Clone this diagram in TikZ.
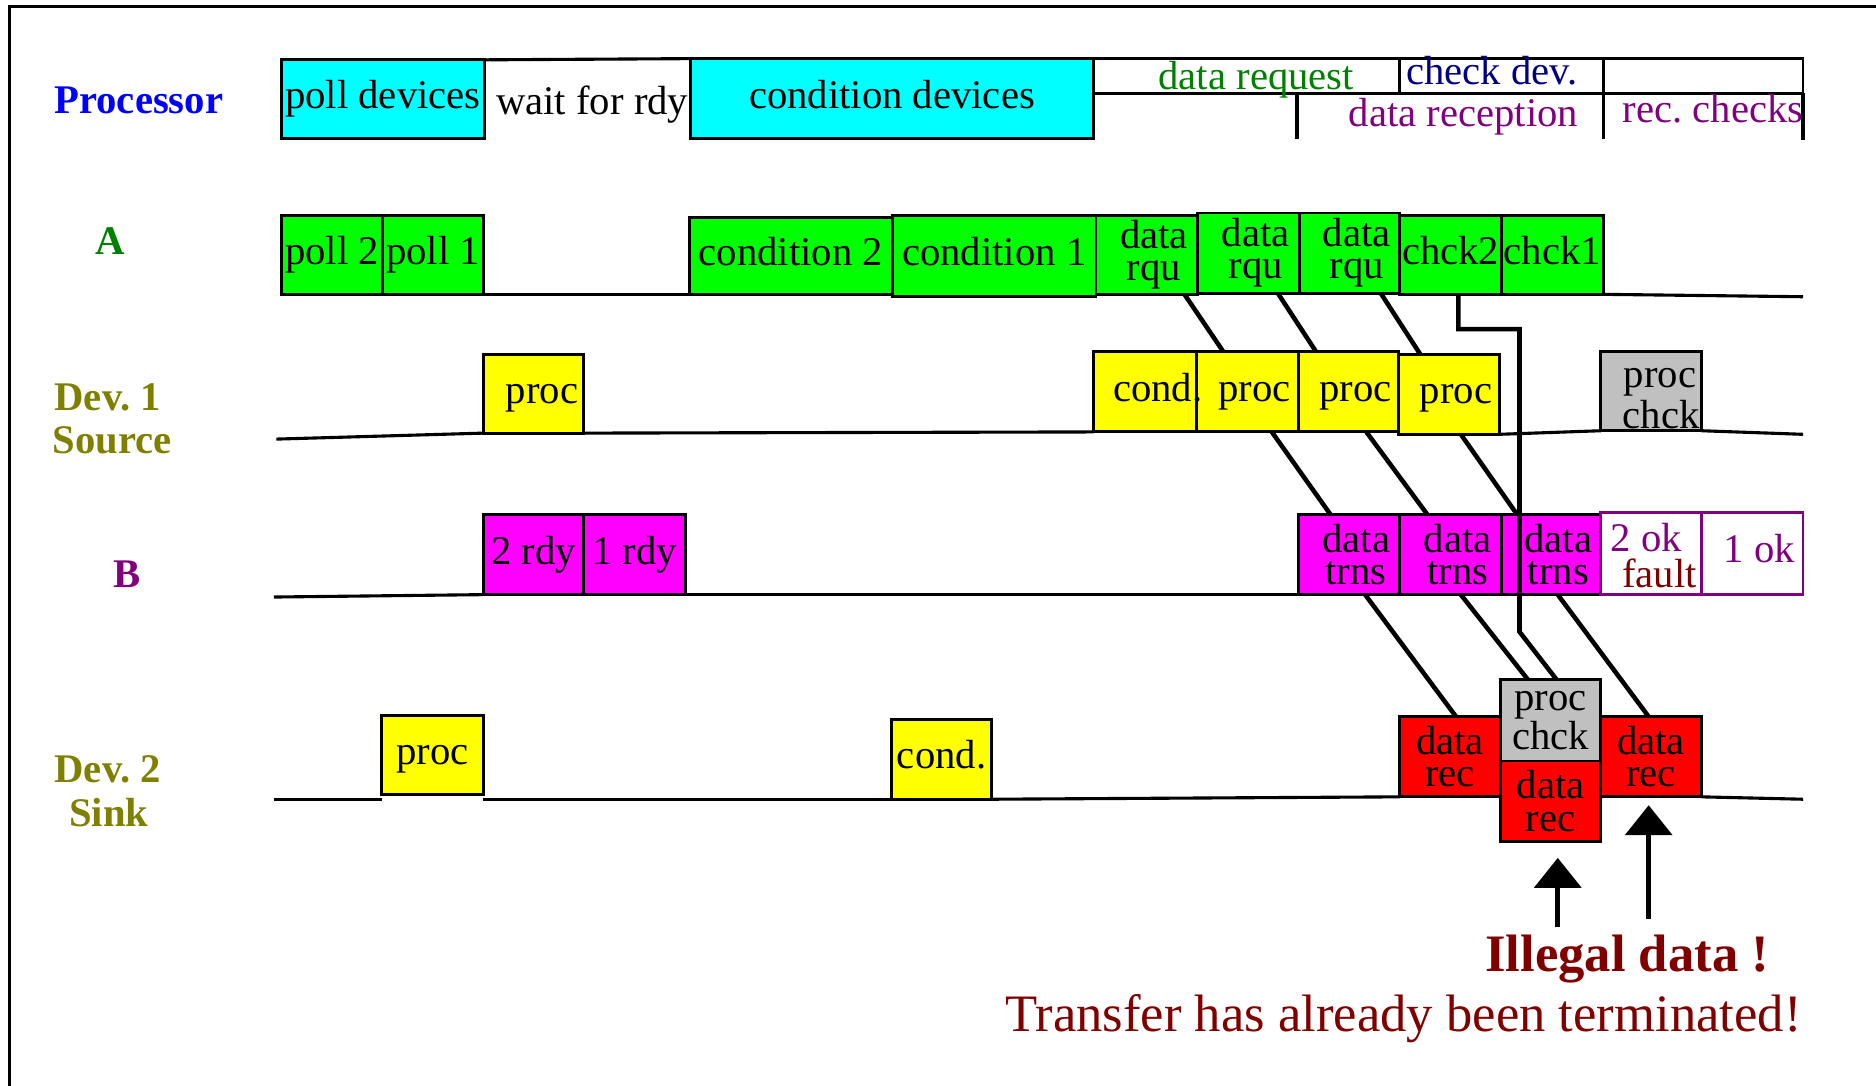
\documentclass[tikz,border=0pt]{standalone}
\usepackage{fontspec}
\setmainfont{Liberation Serif}
\usetikzlibrary{calc,arrows.meta}

\definecolor{bxcyan}{RGB}{0,255,255}
\definecolor{bxgreen}{RGB}{0,255,0}
\definecolor{bxyellow}{RGB}{255,255,0}
\definecolor{bxmagenta}{RGB}{255,0,255}
\definecolor{bxred}{RGB}{255,0,0}
\definecolor{bxgray}{RGB}{192,192,192}
\definecolor{lblblue}{RGB}{0,0,255}
\definecolor{lblgreen}{RGB}{0,128,0}
\definecolor{lblolive}{RGB}{128,128,0}
\definecolor{lblpurple}{RGB}{128,0,128}
\definecolor{lblnavy}{RGB}{0,0,128}
\definecolor{lbldark}{RGB}{128,0,0}

% timing box given by its corners: options, name, x1, y1, x2, y2, text
\newcommand{\tlbox}[7]{%
  \pgfmathsetmacro{\tlboxw}{(#5-#3)*0.5}%
  \pgfmathsetmacro{\tlboxh}{(#6-#4)*0.5}%
  \node[box,#1,minimum width=\tlboxw pt,minimum height=\tlboxh pt]
    (#2) at ({(#3+#5)/2},{(#4+#6)/2}) {#7};}

\begin{document}
\frenchspacing
\begin{tikzpicture}[x=0.5pt, y=-0.5pt,
  box/.style={draw, line width=1.2pt, inner sep=0pt, outer sep=0pt, align=center,
    font=\fontsize{17}{13.5}\selectfont},
  one/.style={text height=11.6pt, text depth=3.7pt},
  txt/.style={inner sep=0pt, font=\fontsize{17}{13.5}\selectfont},
  lbl/.style={inner sep=0pt, font=\fontsize{17}{18}\selectfont\bfseries},
  big/.style={inner sep=0pt, text=lbldark, font=\fontsize{22}{22}\selectfont},
  sig/.style={line width=1.3pt},
  conn/.style={line width=1.9pt},
  upar/.style={line width=1.9pt, -{Triangle[width=19.5pt,length=12.5pt]}},
]
\useasboundingbox (0,0) rectangle (1568,907);

% outer frame
\draw[line width=1pt] (8,930) -- (8,5.5) -- (1590,5.5);

% row labels
\node[lbl, anchor=base, text=lblblue] (lProc) at (116,95) {Processor};
\node[lbl, anchor=base, text=lblgreen] (lA) at (92,213) {A};
\node[lbl, anchor=base, text=lblolive] (lDevA) at (90,343) {Dev. 1};
\node[lbl, anchor=base, text=lblolive] (lSrc) at (94,379) {Source};
\node[lbl, anchor=base, text=lblpurple] (lB) at (106,491) {B};
\node[lbl, anchor=base, text=lblolive] (lDevB) at (90,654) {Dev. 2};
\node[lbl, anchor=base, text=lblolive] (lSink) at (91,691) {Sink};

% ---- Processor row
\tlbox{one, fill=bxcyan}{pdev}{235}{50}{405}{116}{poll devices}
\tlbox{one, fill=bxcyan}{cdev}{577}{49}{914}{116}{condition devices}
\draw[sig] (pdev.north east) -- (cdev.north west);
\node[txt, anchor=base] (wait) at (495,96) {wait for rdy};

\tlbox{}{dreq}{914}{49}{1170}{78}{}
\tlbox{}{cdv}{1170}{49}{1340}{78}{}
\tlbox{}{rchk}{1340}{49}{1507}{78}{}
\draw[sig] ($(dreq.south west)+(170,0)$) -- ++(0,38);
\draw[sig] (cdv.south east) -- ++(0,38);
\draw[sig] (rchk.south east) -- ++(0,39);
\node[txt, anchor=base, text=lblgreen] (tReq) at (1050,75) {data request};
\node[txt, anchor=base west, text=lblnavy] (tChk) at (1175,71) {check dev.};
\node[txt, anchor=base west, text=lblpurple] (tRec) at (1127,106) {data reception};
\node[txt, anchor=base west, text=lblpurple] (tRck) at (1356,102) {rec. checks};

% ---- A row
\tlbox{one, fill=bxgreen}{poll2}{235}{180}{320}{246}{poll 2}
\tlbox{one, fill=bxgreen}{poll1}{320}{180}{404}{246}{poll 1}
\tlbox{one, fill=bxgreen}{cnd2}{576}{182}{746}{246}{condition 2}
\tlbox{one, fill=bxgreen}{cnd1}{746}{180}{916}{248}{condition 1}
\tlbox{fill=bxgreen}{rqu1}{916}{180}{1001}{246}{\hspace*{6pt}data\\\hspace*{6pt}rqu}
\tlbox{fill=bxgreen}{rqu2}{1001}{178}{1086}{245}{\hspace*{6pt}data\\\hspace*{6pt}rqu}
\tlbox{fill=bxgreen}{rqu3}{1086}{178}{1170}{245}{\hspace*{6pt}data\\\hspace*{6pt}rqu}
\tlbox{one, fill=bxgreen}{chk2}{1170}{180}{1255}{246}{chck2}
\tlbox{one, fill=bxgreen}{chk1}{1255}{180}{1340}{246}{chck1}
\coordinate (aEnd) at (1507,248);
\draw[sig] (poll1.south east) -- (cnd2.south west);
\draw[sig] (chk1.south east) -- (aEnd);

% ---- Dev. 1 row
\coordinate (d1Start) at (231,367);
\tlbox{one, fill=bxyellow}{d1proc}{404}{296}{488}{362}{\hspace*{7pt}proc}
\tlbox{fill=bxyellow}{d1cond}{914}{294}{1000}{361}{}
\tlbox{one, fill=bxyellow}{d1p1}{1000}{294}{1085}{361}{\hspace*{6pt}proc}
\tlbox{one, fill=bxyellow}{d1p2}{1085}{294}{1169}{361}{\hspace*{6pt}proc}
\tlbox{one, fill=bxyellow}{d1p3}{1169}{296}{1253}{363}{\hspace*{6pt}proc}
% the label runs over the border of the next box, so it is set on top
\node[txt, anchor=base west] (d1condT) at ($(d1cond.west)+(16,8)$) {cond.};
\tlbox{fill=bxgray}{d1chk}{1338}{294}{1422}{360}{}
\node[txt, anchor=base east] (d1chkA) at ($(d1chk.east)+(-4,-3)$) {proc};
\node[txt, anchor=base east] (d1chkB) at ($(d1chk.east)+(-1,31)$) {chck};
\coordinate (d1End) at (1507,363);
\draw[sig] (d1Start) -- (d1proc.south west);
\draw[sig] (d1proc.south east) -- (d1cond.south west);
\draw[sig] (d1p3.south east) -- (d1chk.south west);
\draw[sig] (d1chk.south east) -- (d1End);

% ---- B row
\coordinate (bStart) at (229,499);
\tlbox{one, fill=bxmagenta}{rdy2}{404}{430}{488}{497}{2 rdy}
\tlbox{one, fill=bxmagenta}{rdy1}{488}{430}{573}{497}{1 rdy}
\tlbox{fill=bxmagenta}{trn1}{1085}{430}{1170}{497}{\hspace*{6pt}data\\\hspace*{6pt}trns}
\tlbox{fill=bxmagenta}{trn2}{1170}{430}{1255}{497}{\hspace*{6pt}data\\\hspace*{6pt}trns}
\tlbox{fill=bxmagenta}{trn3}{1255}{430}{1338}{497}{\hspace*{6pt}data\\\hspace*{6pt}trns}
\tlbox{draw=lblpurple, fill=white}{ok2}{1338}{428}{1422}{497}{}
\tlbox{one, draw=lblpurple, fill=white, text=lblpurple}{ok1}{1422}{428}{1507}{497}{\hspace*{6pt}1 ok}
\node[txt, anchor=base, text=lblpurple] (ok2A) at (1376,461) {2 ok};
\node[txt, anchor=base, text=lbldark] (ok2B) at (1387,491) {fault};
\draw[sig] (bStart) -- (rdy2.south west);
\draw[sig] (rdy1.south east) -- (trn1.south west);

% ---- Dev. 2 row
\coordinate (d2Start) at (229,668);
\tlbox{one, fill=bxyellow}{d2proc}{319}{598}{404}{664}{proc}
\tlbox{one, fill=bxyellow}{d2cond}{745}{601}{829}{668}{cond.}
\tlbox{fill=bxred}{rec1}{1170}{599}{1254}{666}{data\\rec}
\tlbox{fill=bxgray}{pchk2}{1254}{568}{1338}{636}{proc\\chck}
\tlbox{fill=bxred}{rec2}{1254}{636}{1338}{703}{data\\rec}
\tlbox{fill=bxred}{rec3}{1338}{599}{1422}{666}{data\\rec}
\coordinate (d2End) at (1507,668);
\draw[sig] (d2Start) -- (d2proc.south west |- d2Start);
\draw[sig] (d2proc.south east |- d2Start) -- (d2cond.south west);
\draw[sig] (d2cond.south east) -- (rec1.south west);
\draw[sig] (rec3.south east) -- (d2End);

% ---- transfer connectors
\draw[conn] ($(rqu1.south)+(31.5,0)$) -- ($(d1p1.north)+(-20,0)$);
\draw[conn] ($(rqu2.south)+(24.5,0)$) -- ($(d1p2.north)+(-27,0)$);
\draw[conn] ($(rqu3.south)+(26,0)$) -- ($(d1p3.north)+(-24,0)$);
\draw[conn] ($(d1p1.south)+(20.5,0)$) -- ($(trn1.north)+(-15.5,0)$);
\draw[conn] ($(d1p2.south)+(15,0)$) -- ($(trn2.north)+(-19.5,0)$);
\draw[conn] ($(d1p3.south)+(10,0)$) -- ($(trn3.north)+(-28.5,0)$);
\draw[conn] ($(trn1.south)+(13.5,0)$) -- ($(rec1.north)+(5,0)$);
\draw[conn] ($(trn2.south)+(8.5,0)$) -- ($(pchk2.north)+(-19,0)$);
\draw[conn] ($(trn3.south)+(5.5,0)$) -- ($(rec3.north)+(-2,0)$);
\draw[conn] ($(chk2.south)+(6.5,0)$) -- ++(0,29) -- ++(51,0) -- ++(0,253)
  -- ($(pchk2.north)+(5,0)$);

% ---- fault annotation
\coordinate (arrA) at (1302,775);
\coordinate (arrB) at (1378,768);
\draw[upar] (arrA) -- ($(rec2.south)+(6,14)$);
\draw[upar] (arrB) -- ($(rec3.south)+(-2,7)$);
\node[big, anchor=base, font=\fontsize{22}{22}\selectfont\bfseries] (illegal) at (1360,812) {Illegal data !};
\node[big, anchor=base] (transfer) at (1173,862) {Transfer has already been terminated!};
\end{tikzpicture}
\end{document}
